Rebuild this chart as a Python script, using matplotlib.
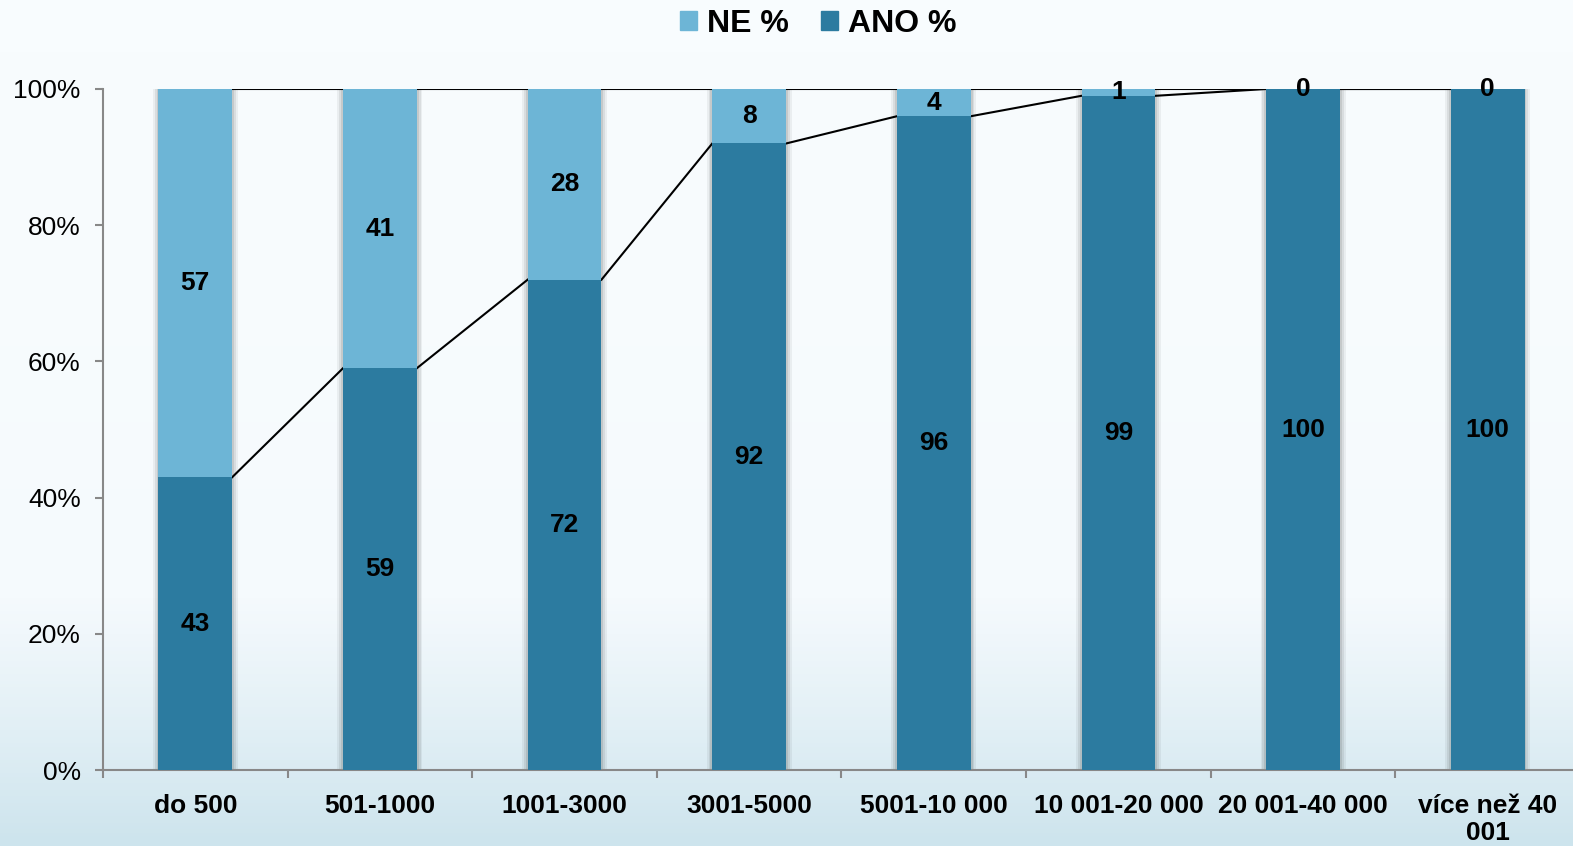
import numpy as np
import matplotlib.pyplot as plt
from matplotlib.patches import Patch
from matplotlib.colors import LinearSegmentedColormap

# --- Datos ---
categorias = ['do 500', '501-1000', '1001-3000', '3001-5000', '5001-10 000',
              '10 001-20 000', '20 001-40 000', 'více než 40\n001']
ano = [43, 59, 72, 92, 96, 99, 100, 100]
ne = [57, 41, 28, 8, 4, 1, 0, 0]

c_ne = '#6db5d6'
c_ano = '#2c7ba0'

plt.rcParams['font.family'] = ['Liberation Sans', 'DejaVu Sans']

fig = plt.figure(figsize=(15.73, 8.46), dpi=100)

# Fondo degradado
bg = fig.add_axes([0, 0, 1, 1], zorder=-10)
grad = np.linspace(0, 1, 256).reshape(-1, 1)
cmap = LinearSegmentedColormap.from_list('bg', ['#f8fcfe', '#f5fafd', '#cde4ed'])
bg.imshow(grad ** 2.0, aspect='auto', cmap=cmap, extent=[0, 1, 0, 1], origin='upper')
bg.axis('off')

ax = fig.add_axes([103 / 1573, 76 / 846, 1477 / 1573, 681 / 846])
ax.patch.set_alpha(0)

x = np.arange(len(categorias))
w = 0.40

# Sombra suave de las barras
for k, a in enumerate([0.05, 0.07, 0.09]):
    ax.bar(x, 100, width=w + 0.06 - k * 0.02, color='black', alpha=a, zorder=1, linewidth=0)

ax.bar(x, ano, width=w, color=c_ano, zorder=3, linewidth=0)
ax.bar(x, ne, width=w, bottom=ano, color=c_ne, zorder=3, linewidth=0)

# Líneas de serie
tops_ne = np.array(ano) + np.array(ne)
for i in range(len(x) - 1):
    ax.plot([x[i] + w / 2, x[i + 1] - w / 2], [ano[i], ano[i + 1]], color='black', lw=1.5, zorder=2)
    ax.plot([x[i] + w / 2, x[i + 1] - w / 2], [tops_ne[i], tops_ne[i + 1]], color='black', lw=1.5, zorder=2)

# Etiquetas
for i in range(len(x)):
    ax.text(x[i], ano[i] / 2, str(ano[i]), ha='center', va='center',
            fontsize=19, fontweight='bold', zorder=5)
    ax.text(x[i], ano[i] + ne[i] / 2, str(ne[i]), ha='center', va='center',
            fontsize=19, fontweight='bold', zorder=5)

ax.set_xlim(-0.5, len(x) - 0.5)
ax.set_ylim(0, 100)
ax.set_yticks([0, 20, 40, 60, 80, 100])
ax.set_yticklabels(['0%', '20%', '40%', '60%', '80%', '100%'], fontsize=19)
ax.set_xticks(x)
ax.set_xticklabels(categorias, fontsize=19, fontweight='bold', linespacing=1.2)
ax.set_xticks(np.arange(len(x) + 1) - 0.5, minor=True)
ax.tick_params(axis='x', which='major', length=0, pad=17)
ax.tick_params(axis='x', which='minor', length=6, color='#888888', width=1.5)
ax.tick_params(axis='y', length=6, color='#888888', width=1.5, pad=10)

for s in ['top', 'right']:
    ax.spines[s].set_visible(False)
for s in ['left', 'bottom']:
    ax.spines[s].set_color('#888888')
    ax.spines[s].set_linewidth(1.5)

handles = [Patch(color=c_ne, label='NE %'), Patch(color=c_ano, label='ANO %')]
fig.legend(handles=handles, loc='center', bbox_to_anchor=(818 / 1573, 1 - 24 / 846), ncol=2,
           frameon=False, prop={'size': 23, 'weight': 'bold'}, handlelength=0.55,
           handleheight=0.55, handletextpad=0.3, columnspacing=1.0)

fig.savefig('out.png', dpi=100)
